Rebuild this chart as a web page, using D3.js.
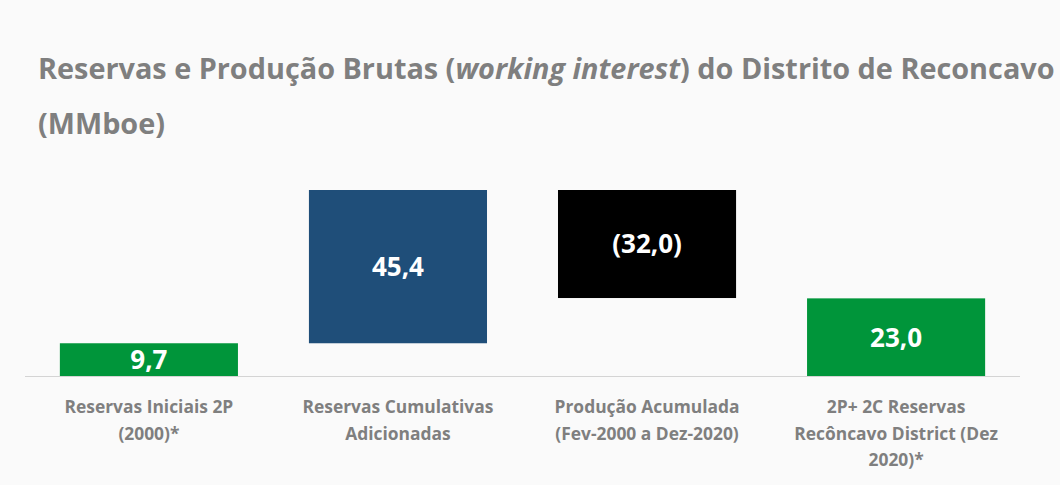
<!DOCTYPE html>
<html>
<head>
<meta charset="utf-8">
<script src="https://cdn.jsdelivr.net/npm/d3@7"></script>
<style>
  html, body { margin: 0; padding: 0; background: #fafafa; }
  svg { display: block; }
  text { font-family: "Open Sans", "Noto Sans", sans-serif; font-weight: 700; }
</style>
</head>
<body>
<svg id="chart" width="1060" height="485"></svg>
<script>
// Waterfall steps (MMboe)
const categories = [
  "Reservas Iniciais 2P (2000)*",
  "Reservas Cumulativas Adicionadas",
  "Produção Acumulada (Fev-2000 a Dez-2020)",
  "2P+ 2C Reservas Recôncavo District (Dez 2020)*"
];
const categoryLines = [
  ["Reservas Iniciais 2P", "(2000)*"],
  ["Reservas Cumulativas", "Adicionadas"],
  ["Produção Acumulada", "(Fev-2000 a Dez-2020)"],
  ["2P+ 2C Reservas", "Recôncavo District (Dez", "2020)*"]
];
const values = [9.7, 45.4, -32.0, 23.0];
const stepKinds = ["total", "delta", "delta", "total"];
const valueLabels = ["9,7", "45,4", "(32,0)", "23,0"];
const barColors = ["#00953a", "#1f4e79", "#000000", "#00953a"];

const svg = d3.select("#chart");

// Build start/end of each floating bar
let running = 0;
const bars = categories.map((c, i) => {
  let start, end;
  if (stepKinds[i] === "total") { start = 0; end = values[i]; running = values[i]; }
  else { start = running; end = running + values[i]; running = end; }
  return { cat: c, lines: categoryLines[i], start, end, label: valueLabels[i], color: barColors[i] };
});

const x = d3.scaleBand()
  .domain(categories)
  .range([25, 1020])
  .paddingInner(0.285)
  .paddingOuter(0.14);

const y = d3.scaleLinear()
  .domain([0, 55.1])
  .range([376, 190]);

// Title
const title = svg.append("text")
  .attr("x", 38).attr("y", 79)
  .attr("fill", "#7f7f7f")
  .style("font-size", "25px");
title.append("tspan").text("Reservas e Produção Brutas (");
title.append("tspan").style("font-style", "italic").text("working interest");
title.append("tspan").text(") do Distrito de Reconcavo");
// fit the first title line to its target width
const tw = title.node().getComputedTextLength();
const titleSize = 25 * 1017 / tw;
title.style("font-size", titleSize + "px");

svg.append("text")
  .attr("x", 38).attr("y", 134)
  .attr("fill", "#7f7f7f")
  .style("font-size", titleSize + "px")
  .text("(MMboe)");

// Bars
svg.append("g").selectAll("rect")
  .data(bars)
  .join("rect")
  .attr("x", d => x(d.cat))
  .attr("width", x.bandwidth())
  .attr("y", d => y(Math.max(d.start, d.end)))
  .attr("height", d => Math.abs(y(d.start) - y(d.end)))
  .attr("fill", d => d.color);

// Baseline
svg.append("line")
  .attr("x1", 25).attr("x2", 1020)
  .attr("y1", y(0) + 0.5).attr("y2", y(0) + 0.5)
  .attr("stroke", "#d4d4d4")
  .attr("stroke-width", 1.2);

// Value labels centred in each bar
svg.append("g").selectAll("text")
  .data(bars)
  .join("text")
  .attr("x", d => x(d.cat) + x.bandwidth() / 2)
  .attr("y", d => (y(d.start) + y(d.end)) / 2)
  .attr("dy", "0.36em")
  .attr("text-anchor", "middle")
  .attr("fill", "#ffffff")
  .style("font-size", "26px")
  .text(d => d.label);

// Category labels
const cl = svg.append("g").selectAll("text")
  .data(bars)
  .join("text")
  .attr("text-anchor", "middle")
  .attr("fill", "#7f7f7f")
  .style("font-size", "17.4px");
cl.each(function(d) {
  const t = d3.select(this);
  d.lines.forEach((ln, k) => {
    t.append("tspan")
      .attr("x", x(d.cat) + x.bandwidth() / 2)
      .attr("y", 413 + k * 26.5)
      .text(ln);
  });
});
</script>
</body>
</html>
